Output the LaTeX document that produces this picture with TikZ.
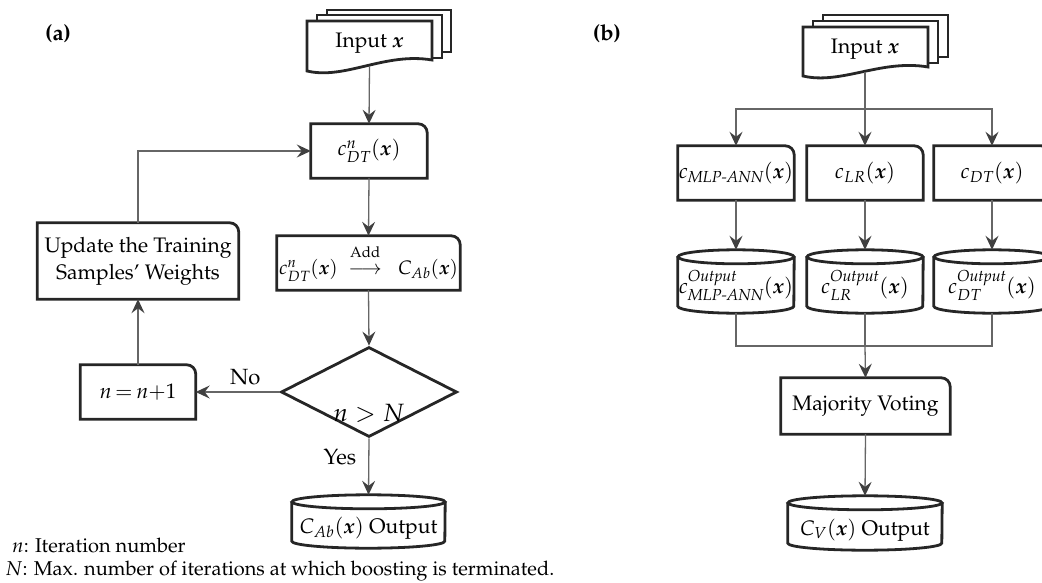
\documentclass[tikz,border=0pt]{standalone}
\usepackage[T1]{fontenc}
\usepackage{mathpazo}
\usepackage{amsmath}
\usepackage{bm}
\usetikzlibrary{shapes.geometric,arrows.meta,calc}

\definecolor{bord}{HTML}{262626}
\definecolor{conn}{HTML}{666666}
\definecolor{tipc}{HTML}{404040}

\tikzset{
  boxln/.style={draw=bord, line width=2.8pt, line join=miter},
  sheet/.style={boxln, fill=white},
  big/.style={font=\fontsize{21}{25}\selectfont},
  holder/.style={big, inner sep=0pt, minimum width=#1},
  cyltxt/.style={big, inner sep=0pt, minimum width=#1, text height=24pt, text depth=0pt},
  conn/.style={draw=conn, line width=1.3pt},
  arr/.style={conn, -{Stealth[length=14pt,width=13pt,inset=5pt,color=tipc]}},
  lbl/.style={font=\fontsize{22}{26}\selectfont, inner sep=0pt},
  note/.style={font=\fontsize{20}{23}\selectfont, inner sep=0pt, anchor=base west},
  panel/.style={font=\fontsize{22}{26}\selectfont\bfseries, inner sep=0pt}
}

\newcommand\rtbox[1]{\draw[boxln] (#1.south west) -- (#1.north west) -- ([xshift=-9pt]#1.north east) arc[start angle=90,end angle=0,radius=9pt] -- (#1.south east) -- cycle;}

\begin{document}
\begin{tikzpicture}[x=1pt,y=-1pt]
\useasboundingbox (0,0) rectangle (1042,583);
\clip (0,0) rectangle (1042,583);

% ---------------- panel (a) ----------------
\node[panel] (la) at (58,34) {(a)};

\draw[sheet] (327,10) rectangle (451,52);
\draw[sheet] (317,15) rectangle (442,58);
\draw[sheet] (307,21) -- (432,21) -- (432,60) .. controls (385,52) and (345,80) .. (307,71) -- cycle;
\node[holder=125pt, minimum height=45pt] (ina) at (369.5,43.5) {Input $\bm{x}$};

\node[holder=116pt, minimum height=54pt] (ca) at (369,151) {$c^{n}_{DT}(\bm{x})$};
\rtbox{ca}
\node[holder=183pt, minimum height=54pt, font=\fontsize{19.5}{23}\selectfont] (adda) at (368.5,263)
  {$c^{n}_{DT}(\bm{x})\;\overset{\raisebox{6pt}{\fontsize{15}{17}\selectfont Add}}{\longrightarrow}\;\; C_{Ab}(\bm{x})$};
\rtbox{adda}
\node[holder=201pt, minimum height=76pt, align=center, font=\fontsize{21}{27}\selectfont] (upd) at (138,261) {Update the Training\\Samples' Weights};
\rtbox{upd}
\node[diamond, boxln, aspect=2, minimum width=176pt, minimum height=90pt, inner sep=0pt,
      label={[font=\fontsize{25}{29}\selectfont, yshift=-21pt]center:$n>N$}] (dec) at (369,392) {};
\node[holder=115pt, minimum height=54pt] (na) at (138,392) {$n\,{=}\,n{+}1$};
\rtbox{na}
\node[cyltxt=153pt, minimum height=53pt] (outa) at (368.5,521.5) {$C_{Ab}(\bm{x})$\ Output};
\draw[boxln] ([yshift=-7pt]outa.north) ellipse [x radius=76.5pt, y radius=7pt];
\draw[boxln] ([yshift=-7pt]outa.north west) -- ([yshift=7pt]outa.south west) arc[start angle=180,end angle=360,x radius=76.5pt,y radius=7pt] -- ([yshift=-7pt]outa.north east);

\draw[arr] (ina.south) -- (ca.north);
\draw[arr] (ca.south) -- (adda.north);
\draw[arr] (adda.south) -- (dec.north);
\draw[arr] (dec.west) -- (na.east) node[lbl, pos=0.41, above=6pt] {No};
\draw[arr] (na.north) -- (upd.south);
\draw[arr] (upd.north) |- (ca.west);
\draw[arr] (dec.south) -- (outa.north) node[lbl, pos=0.34, left=12pt] {Yes};

\node[note] (n1) at (12,552) {$n$: Iteration number};
\node[note] (n2) at (5,575) {$N$: Max. number of iterations at which boosting is terminated.};

% ---------------- panel (b) ----------------
\node[panel] (lb) at (607,34) {(b)};

\draw[sheet] (823,15) rectangle (948,57);
\draw[sheet] (813,21) rectangle (938,63);
\draw[sheet] (803,27) -- (928,27) -- (928,67) .. controls (881,59) and (841,85) .. (803,76) -- cycle;
\node[holder=125pt, minimum height=45pt] (inb) at (865,49.5) {Input $\bm{x}$};

\node[holder=116pt, minimum height=54pt] (mlp) at (736,173) {$c_{\textit{MLP-ANN}}(\bm{x})$};
\rtbox{mlp}
\node[holder=116pt, minimum height=54pt] (lrb) at (865,173) {$c_{LR}(\bm{x})$};
\rtbox{lrb}
\node[holder=116pt, minimum height=54pt] (dtb) at (992,173) {$c_{DT}(\bm{x})$};
\rtbox{dtb}

\node[cyltxt=116pt, minimum height=63pt] (omlp) at (736,281.5) {$c^{\textit{Output}}_{\textit{MLP-ANN}}(\bm{x})$};
\node[cyltxt=116pt, minimum height=63pt] (olr) at (865,281.5) {$c^{\textit{Output}}_{LR}(\bm{x})$};
\node[cyltxt=116pt, minimum height=63pt] (odt) at (992,281.5) {$c^{\textit{Output}}_{DT}(\bm{x})$};
\foreach \c in {omlp,olr,odt}{
  \draw[boxln] ([yshift=-7pt]\c.north) ellipse [x radius=58pt, y radius=7pt];
  \draw[boxln] ([yshift=-7pt]\c.north west) -- ([yshift=7pt]\c.south west) arc[start angle=180,end angle=360,x radius=58pt,y radius=7pt] -- ([yshift=-7pt]\c.north east);
}

\node[holder=169pt, minimum height=56pt] (maj) at (865.5,406) {Majority Voting};
\rtbox{maj}
\node[cyltxt=154pt, minimum height=54pt] (outb) at (865,523) {$C_{V}(\bm{x})$\ Output};
\draw[boxln] ([yshift=-7pt]outb.north) ellipse [x radius=77pt, y radius=7pt];
\draw[boxln] ([yshift=-7pt]outb.north west) -- ([yshift=7pt]outb.south west) arc[start angle=180,end angle=360,x radius=77pt,y radius=7pt] -- ([yshift=-7pt]outb.north east);

\coordinate (spl) at (865,109);
\coordinate (mrg) at (865,346);
\draw[conn] (inb.south) -- (spl);
\draw[arr] (spl) -| (mlp.north);
\draw[arr] (spl) -- (lrb.north);
\draw[arr] (spl) -| (dtb.north);
\draw[arr] (mlp.south) -- (omlp.north);
\draw[arr] (lrb.south) -- (olr.north);
\draw[arr] (dtb.south) -- (odt.north);
\draw[conn] (omlp.south) |- (mrg);
\draw[conn] (odt.south) |- (mrg);
\draw[conn] (olr.south) -- (mrg);
\draw[arr] (mrg) -- (maj.north);
\draw[arr] (maj.south) -- (outb.north);
\end{tikzpicture}
\end{document}
